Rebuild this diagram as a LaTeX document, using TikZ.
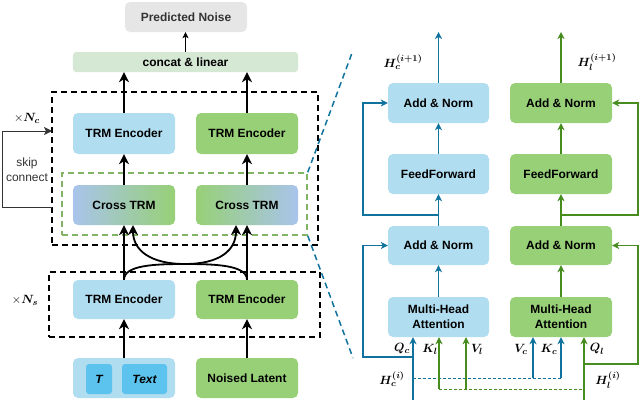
\documentclass[tikz,border=0pt]{standalone}
\usepackage{amsmath,bm}
\usepackage[no-math]{fontspec}
\setmainfont{Liberation Sans}
\usetikzlibrary{arrows.meta,calc}
\definecolor{lblue}{HTML}{B1DDF0}
\definecolor{lgreen}{HTML}{97D077}
\definecolor{sblue}{HTML}{A9C4EB}
\definecolor{tblue}{HTML}{5BC3EE}
\definecolor{cgreen}{HTML}{D5E8D4}
\definecolor{pgray}{HTML}{E6E6E6}
\definecolor{ablue}{HTML}{10739E}
\definecolor{agreen}{HTML}{468C1E}
\definecolor{dgreen}{HTML}{82B366}
\tikzset{
  box/.style={rounded corners=5bp, minimum width=102bp, minimum height=40bp, inner sep=0pt,
    font=\bfseries\fontsize{12}{15}\selectfont, align=center},
  rbox/.style={box, minimum width=101bp},
  dbox/.style={draw=black, line width=1.5bp, dash pattern=on 6bp off 4bp, inner sep=0pt},
  blk/.style={line width=1.8bp, -{Stealth[length=10bp,width=10bp,inset=3bp]}},
  thinarr/.style={line width=0.9bp, -{Stealth[length=6bp,width=6bp,inset=1.5bp]}},
  rb/.style={draw=ablue, line width=1.2bp, -{Stealth[length=7bp,width=7bp,inset=2bp]}},
  rg/.style={draw=agreen, line width=1.2bp, -{Stealth[length=7bp,width=7bp,inset=2bp]}},
  mlab/.style={font=\fontsize{13}{15}\selectfont, inner sep=0pt},
  skiparr/.style={line width=1bp, draw=black!80, -{Stealth[length=8bp,width=8bp,inset=2bp]}},
  bdash/.style={draw=ablue, line width=1.5bp, dash pattern=on 6bp off 4bp},
}
\begin{document}
\begin{tikzpicture}[x=1bp,y=-1bp]
\useasboundingbox (0,0) rectangle (640,400);
% ---- left panel ----
\node[box, fill=pgray, minimum width=122bp, minimum height=30bp, text=black!80] (pn) at (186,17) {Predicted Noise};
\node[box, fill=cgreen, minimum width=225bp, minimum height=20bp, rounded corners=3bp] (cl) at (185.5,62) {concat \& linear};
\node[dbox, minimum width=266bp, minimum height=153bp] (outerbox) at (185,168.5) {};
\node[dbox, draw=dgreen, minimum width=245bp, minimum height=62bp] (gd) at (184.5,204) {};
\node[dbox, minimum width=271bp, minimum height=65bp] (lowerbox) at (184.5,304.5) {};

\node[box, fill=lblue, minimum height=41bp] (te1) at (124,133.5) {TRM Encoder};
\node[box, fill=lgreen, minimum height=41bp] (te2) at (247,133.5) {TRM Encoder};
\node[box, left color=sblue, right color=lgreen] (ct1) at (124,205) {Cross TRM};
\node[box, left color=lgreen, right color=sblue] (ct2) at (247,205) {Cross TRM};
\node[box, fill=lblue, minimum height=39bp] (le1) at (124,299.5) {TRM Encoder};
\node[box, fill=lgreen, minimum height=39bp] (le2) at (247,299.5) {TRM Encoder};
\node[box, fill=lblue] (in1) at (124,378) {};
\node[box, fill=tblue, minimum width=26bp, minimum height=30bp, rounded corners=3bp] (tt) at (99,379) {\itshape T};
\node[box, fill=tblue, minimum width=45bp, minimum height=30bp, rounded corners=3bp] (tx) at (144.5,379) {\itshape Text};
\node[box, fill=lgreen] (in2) at (247,378) {Noised Latent};

\draw[thinarr] (cl.north) -- (cl.north |- pn.south);
\draw[blk] (te1.north) -- (te1.north |- cl.south);
\draw[blk] (te2.north) -- (te2.north |- cl.south);
\draw[blk] (ct1.north) -- (te1.south);
\draw[blk] (ct2.north) -- (te2.south);
\draw[blk] (le1.north) -- (ct1.south);
\draw[blk] (le2.north) -- (ct2.south);
\coordinate (c2in) at (236,225);
\coordinate (c1in) at (133,225);
\draw[blk] (le1.north) .. controls (124,265) and (155,264) .. (185,264) .. controls (220,264) and (236,250) .. (c2in);
\draw[blk] (le2.north) .. controls (247,265) and (215,264) .. (185,264) .. controls (150,264) and (133,250) .. (c1in);
\draw[blk] (in1.north) -- (le1.south);
\draw[blk] (in2.north) -- (le2.south);

\coordinate (skA) at (2,207);
\coordinate (skB) at (2,131);
\coordinate (skA2) at (52,207);
\coordinate (skB2) at (52,131);
\draw[skiparr] (skA2) -- (skA) -- (skB) -- (skB2);
\node[mlab] (nc) at (27,118) {$\times\bm{N_c}$};
\node[mlab] (ns) at (25,300) {$\times\bm{N_s}$};
\node[font=\fontsize{12}{15}\selectfont, align=center, inner sep=0pt, text=black!80] (skl) at (27,169.5) {skip\\connect};

\coordinate (z1) at (352,53);
\coordinate (z2) at (353,358);
\draw[bdash] (gd.north east) -- (z1);
\draw[bdash] (gd.south east) -- (z2);

% ---- right panel ----
\node[rbox, fill=lblue] (an2b) at (438.5,103) {Add \& Norm};
\node[rbox, fill=lgreen, minimum width=102bp] (an2g) at (561,103) {Add \& Norm};
\node[rbox, fill=lblue] (ffb) at (438.5,174) {FeedForward};
\node[rbox, fill=lgreen, minimum width=102bp] (ffg) at (561,174) {FeedForward};
\node[rbox, fill=lblue, minimum height=39bp] (an1b) at (438.5,245.5) {Add \& Norm};
\node[rbox, fill=lgreen, minimum width=102bp, minimum height=39bp] (an1g) at (561,245.5) {Add \& Norm};
\node[rbox, fill=lblue] (mhab) at (438.5,317) {Multi-Head\\Attention};
\node[rbox, fill=lgreen, minimum width=102bp] (mhag) at (561,317) {Multi-Head\\Attention};

\coordinate (ob) at (438.5,32);
\coordinate (og) at (561,32);
\draw[rb] (an2b.north) -- (ob);
\draw[rg] (an2g.north) -- (og);
\draw[rb] (ffb.north) -- (an2b.south);
\draw[rg] (ffg.north) -- (an2g.south);
\draw[rb] (an1b.north) -- (ffb.south);
\draw[rg] (an1g.north) -- (ffg.south);
\draw[rb] (mhab.north) -- (an1b.south);
\draw[rg] (mhag.north) -- (an1g.south);

% residuals
\coordinate (jb) at (438.5,215);
\coordinate (jg) at (561,215);
\draw[rb] (jb) -- (363,215) -- (363,103) -- (an2b.west);
\draw[rg] (jg) -- (638,215) -- (638,103) -- (an2g.east);
\coordinate (qc) at (413,400);
\coordinate (ql) at (584,400);
\coordinate (qcj) at (413,357);
\coordinate (qlj) at (584,364);
\draw[rb] (qcj) -- (363,357) -- (363,245.5) -- (an1b.west);
\draw[rg] (qlj) -- (638,364) -- (638,245.5) -- (an1g.east);

% inputs
\coordinate (kl) at (439,389);
\coordinate (vl) at (466,389);
\coordinate (vc) at (533,378);
\coordinate (kc) at (561,378);
\coordinate (qcd) at (413,378);
\coordinate (qld) at (584,389);
\draw[ablue, line width=1bp, dash pattern=on 3bp off 2bp] (qcd) -- (kc);
\draw[agreen, line width=1bp, dash pattern=on 3bp off 2bp] (kl) -- (qld);
\draw[rb] (qc) -- (qc |- mhab.south);
\draw[rg] (kl) -- (kl |- mhab.south);
\draw[rg] (vl) -- (vl |- mhab.south);
\draw[rb] (vc) -- (vc |- mhag.south);
\draw[rb] (kc) -- (kc |- mhag.south);
\draw[rg] (ql) -- (ql |- mhag.south);

% labels
\node[mlab] (hc1) at (403,62) {$\bm{H_c^{(i+1)}}$};
\node[mlab] (hl1) at (597,62) {$\bm{H_l^{(i+1)}}$};
\node[mlab] (hc0) at (392,379) {$\bm{H_c^{(i)}}$};
\node[mlab] (hl0) at (608,380) {$\bm{H_l^{(i)}}$};
\node[mlab] (lqc) at (402,349) {$\bm{Q_c}$};
\node[mlab] (lkl) at (430,349) {$\bm{K_l}$};
\node[mlab] (lvl) at (477,349) {$\bm{V_l}$};
\node[mlab] (lvc) at (521,349) {$\bm{V_c}$};
\node[mlab] (lkc) at (549,349) {$\bm{K_c}$};
\node[mlab] (lql) at (597,349) {$\bm{Q_l}$};
\end{tikzpicture}
\end{document}
